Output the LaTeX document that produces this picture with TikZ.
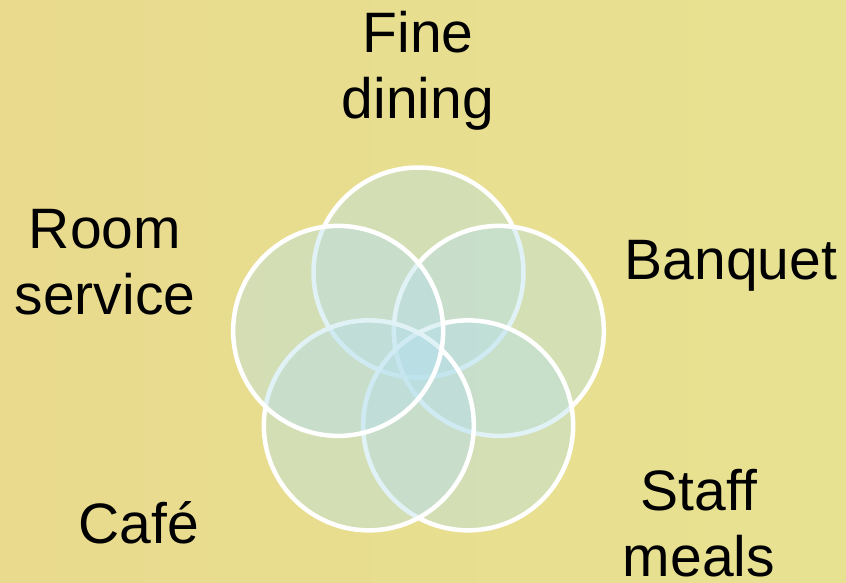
\documentclass[tikz,border=0pt]{standalone}
\usepackage{fontspec}
\setmainfont{Liberation Sans}
\usetikzlibrary{positioning}
\usepackage{xcolor}
\definecolor{bgLeft}{HTML}{E9DA8E}
\definecolor{bgRight}{HTML}{E7E291}
\definecolor{petalBlue}{HTML}{B6E0EC}
\tikzset{
  petal/.style={circle, draw=white, line width=4.5pt, fill=petalBlue, fill opacity=0.4, minimum size=210pt, inner sep=0pt},
  lbl/.style={font=\fontsize{57}{66}\selectfont, align=center, inner sep=0pt, anchor=base, text=black},
}

\begin{document}
\begin{tikzpicture}[x=1pt,y=1pt]
        % background
        \shade[left color=bgLeft, right color=bgRight] (0,0) rectangle (846,582);
        \useasboundingbox (0,0) rectangle (846,582);
        % five overlapping circles, stacked clockwise from the top
        \begin{scope}[shift={(418.5,225)}]
            \foreach \i/\a in {1/90, 2/18, 3/-54, 4/-126, 5/162} {
                \node[petal] (p\i) at (\a:84.5) {};
            }
        \end{scope}
        % labels (base = last line)
        \node[lbl] (fine) at (418,463) {Fine\\dining};
        \node[lbl] (room) at (105,268) {Room\\service};
        \node[lbl] (banq) at (731,302) {Banquet};
        \node[lbl] (staff) at (699,6) {Staff\\meals};
        \node[lbl] (cafe) at (139,39) {Café};
    \end{tikzpicture}
\end{document}
